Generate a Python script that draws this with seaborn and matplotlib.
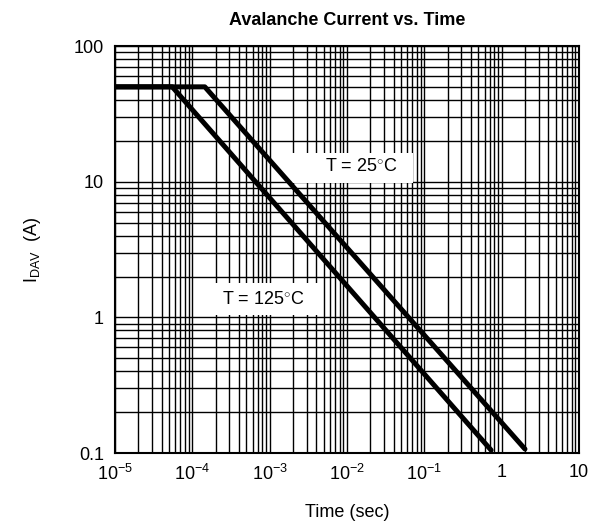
#!/usr/bin/env python3

# Avalanche current vs. time, log-log chart with full decade grid.
import matplotlib

matplotlib.use("Agg")
import matplotlib.pyplot as plt
import pandas
import seaborn as sns
from matplotlib.patches import Rectangle
from matplotlib.ticker import FixedLocator, LogLocator, NullFormatter

sns.set_style("white")
plt.rcParams["font.family"] = ["Liberation Sans", "DejaVu Sans"]
plt.rcParams["mathtext.fontset"] = "custom"
plt.rcParams["mathtext.rm"] = "Liberation Sans"
plt.rcParams["mathtext.it"] = "Liberation Sans"
# seaborn greys the text, the reference is plain black
for key in ["text.color", "axes.labelcolor", "xtick.color", "ytick.color"]:
    plt.rcParams[key] = "black"

# Curve break points
time_25 = [1e-5, 1.45e-4, 2.0]
current_25 = [50, 50, 0.107]
time_125 = [1e-5, 5.5e-5, 0.73]
current_125 = [50, 50, 0.105]

x_ticks = [1e-5, 1e-4, 1e-3, 1e-2, 1e-1, 1, 10]
x_tick_labels = [r"$10^{-5}$", r"$10^{-4}$", r"$10^{-3}$", r"$10^{-2}$", r"$10^{-1}$", "1", "10"]
y_ticks = [0.1, 1, 10, 100]
y_tick_labels = ["0.1", "1", "10", "100"]

df = pandas.concat(
    [
        pandas.DataFrame({"time": time_25, "current": current_25, "temp": "T = 25°C"}),
        pandas.DataFrame({"time": time_125, "current": current_125, "temp": "T = 125°C"}),
    ]
)


def main():
    fig = plt.figure(figsize=(6.03, 5.27), dpi=100)
    ax = fig.add_axes([0.1907, 0.1404, 0.7695, 0.7723])

    ax.set_xscale("log")
    ax.set_yscale("log")
    ax.set_xlim(1e-5, 10)
    ax.set_ylim(0.1, 100)

    # full grid, major and minor, all solid black
    ax.xaxis.set_major_locator(FixedLocator(x_ticks))
    ax.yaxis.set_major_locator(FixedLocator(y_ticks))
    ax.xaxis.set_minor_locator(LogLocator(base=10, subs=range(2, 10), numticks=20))
    ax.yaxis.set_minor_locator(LogLocator(base=10, subs=range(2, 10), numticks=20))
    ax.xaxis.set_minor_formatter(NullFormatter())
    ax.yaxis.set_minor_formatter(NullFormatter())
    ax.grid(True, which="both", color="black", linewidth=1.0)
    ax.set_axisbelow(True)

    for t, sub in df.groupby("temp", sort=False):
        sns.lineplot(
            data=sub,
            x="time",
            y="current",
            ax=ax,
            color="black",
            linewidth=3.6,
            estimator=None,
            sort=False,
            zorder=4,
        )

    # white label boxes covering the grid
    ax.add_patch(Rectangle((0.381, 0.663), 0.261, 0.074, transform=ax.transAxes,
                           facecolor="white", edgecolor="none", zorder=3))
    ax.add_patch(Rectangle((0.198, 0.339), 0.244, 0.079, transform=ax.transAxes,
                           facecolor="white", edgecolor="none", zorder=3))
    ax.text(0.532, 0.703, "T = 25$^{\\circ}$C", transform=ax.transAxes, fontsize=13,
            ha="center", va="center", zorder=5)
    ax.text(0.319, 0.376, "T = 125$^{\\circ}$C", transform=ax.transAxes, fontsize=13,
            ha="center", va="center", zorder=5)

    ax.set_xticklabels(x_tick_labels, fontsize=13)
    ax.set_yticklabels(y_tick_labels, fontsize=13)
    ax.tick_params(which="both", length=0, pad=8)

    for spine in ax.spines.values():
        spine.set_color("black")
        spine.set_linewidth(1.5)

    ax.set_xlabel("Time (sec)", fontsize=13, labelpad=14)
    ax.set_ylabel(r"I$_{\mathregular{DAV}}$  (A)", fontsize=13, labelpad=22)
    ax.set_title("Avalanche Current vs. Time", fontsize=13, fontweight="bold", pad=15)

    fig.savefig("out.png", dpi=100)
    plt.close(fig)


if __name__ == "__main__":
    main()
